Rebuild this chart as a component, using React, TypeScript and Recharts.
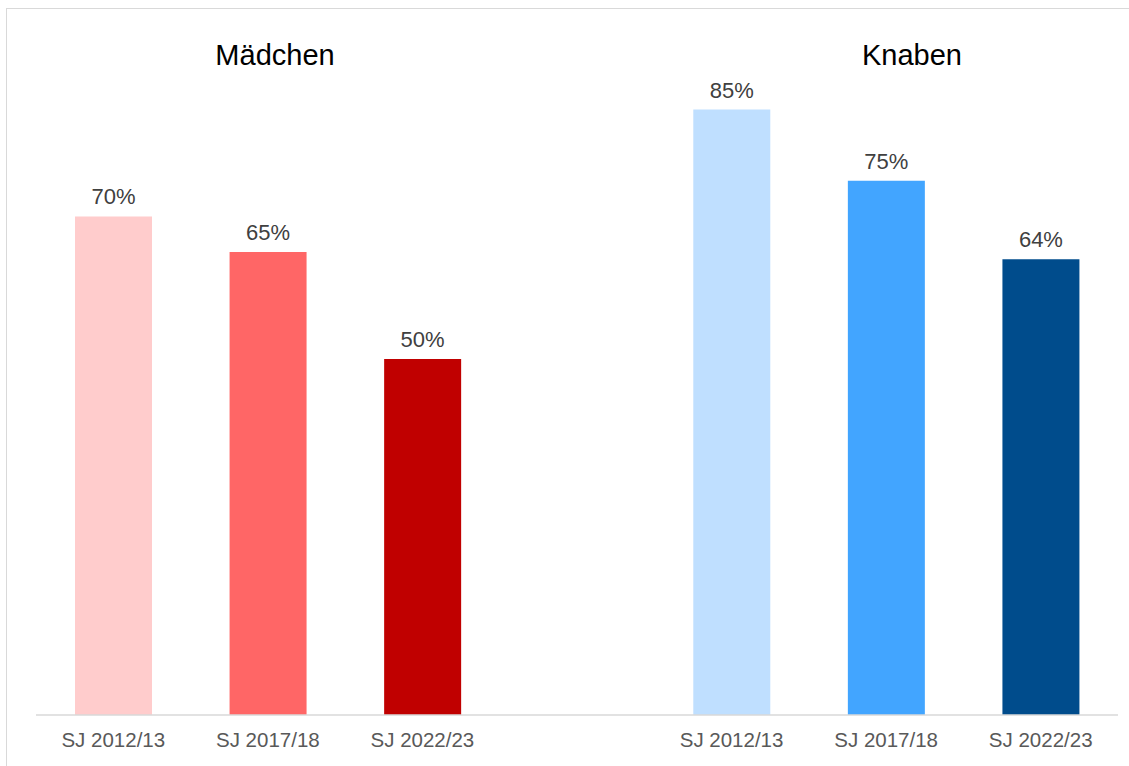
import React from 'react';
import { BarChart, Bar, XAxis, YAxis, Cell, LabelList } from 'recharts';

// school years per group, with an empty slot separating the two groups
const categories = ['SJ 2012/13', 'SJ 2017/18', 'SJ 2022/23', '', 'SJ 2012/13', 'SJ 2017/18', 'SJ 2022/23'];
const values = [70, 65, 50, null, 85, 75, 64];
const colors = ['#FFCCCC', '#FF6666', '#C00000', '#ffffff', '#BFDFFF', '#42A5FF', '#004C8C'];
const groupTitles = ['Mädchen', 'Knaben'];

const chartData = categories.map((label, i) => ({
  key: `c${i}`,
  label,
  value: values[i],
}));

const FONT = '"Liberation Sans", Arial, sans-serif';

export default function App() {
  return (
    <div style={{ position: 'absolute', left: 0, top: 0, width: 1129, height: 766, fontFamily: FONT }}>
      <div
        style={{
          position: 'absolute',
          left: 6,
          top: 8,
          width: 1140,
          height: 780,
          border: '1px solid #d9d9d9',
          boxSizing: 'border-box',
        }}
      />
      {groupTitles.map((title, i) => (
        <div
          key={title}
          style={{
            position: 'absolute',
            left: i === 0 ? 175 : 812,
            width: 200,
            top: 37,
            textAlign: 'center',
            fontSize: 29,
            color: '#000',
            lineHeight: '36px',
          }}
        >
          {title}
        </div>
      ))}
      <div style={{ position: 'absolute', left: 0, top: 0 }}>
        <BarChart
          width={1129}
          height={766}
          data={chartData}
          margin={{ top: 74, right: 11, left: 36, bottom: 21 }}
          barSize={77}
        >
          <XAxis
            dataKey="key"
            height={30}
            tickLine={false}
            tickSize={0}
            tickMargin={17}
            axisLine={{ stroke: '#d9d9d9', strokeWidth: 1.5 }}
            tickFormatter={(_v: string, i: number) => categories[i]}
            tick={{ fontSize: 20.5, fill: '#595959', fontFamily: FONT }}
            interval={0}
          />
          <YAxis hide domain={[0, 90]} />
          <Bar dataKey="value" isAnimationActive={false}>
            {chartData.map((d, i) => (
              <Cell key={d.key} fill={colors[i]} />
            ))}
            <LabelList
              dataKey="value"
              position="top"
              offset={12}
              formatter={(v: any) => (v == null ? '' : `${v}%`)}
              style={{ fontSize: 22, fill: '#404040', fontFamily: FONT }}
            />
          </Bar>
        </BarChart>
      </div>
    </div>
  );
}
